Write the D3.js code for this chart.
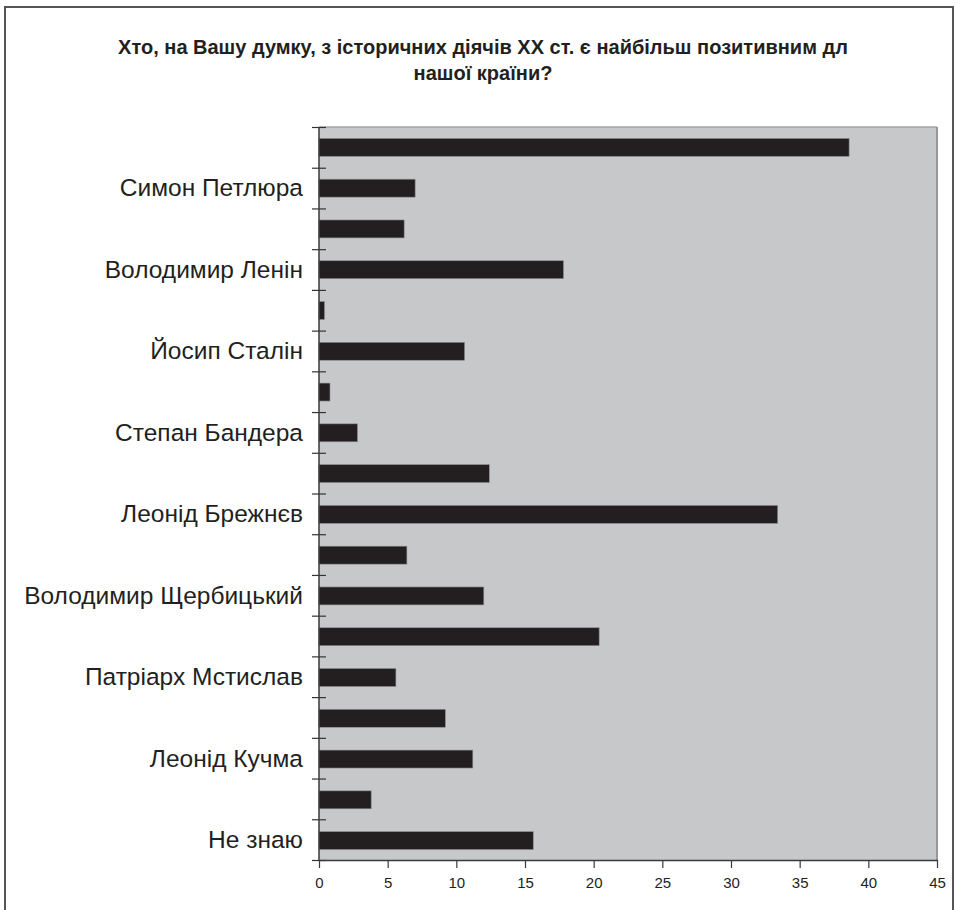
<!DOCTYPE html>
<html>
<head>
<meta charset="utf-8">
<script src="https://cdn.jsdelivr.net/npm/d3@7"></script>
<style>
  html, body { margin: 0; padding: 0; background: #ffffff; }
  svg { display: block; }
</style>
</head>
<body>
<svg id="chart" width="955" height="910"></svg>
<script>
// Survey answers, top to bottom; only every other row carries a printed name
const categories = [
  "", "Симон Петлюра", "", "Володимир Ленін", "", "Йосип Сталін",
  "", "Степан Бандера", "", "Леонід Брежнєв", "", "Володимир Щербицький",
  "", "Патріарх Мстислав", "", "Леонід Кучма", "", "Не знаю"
];
const values = [
  38.6, 7.0, 6.2, 17.8, 0.4, 10.6,
  0.8, 2.8, 12.4, 33.4, 6.4, 12.0,
  20.4, 5.6, 9.2, 11.2, 3.8, 15.6
];
const xTicks = [0, 5, 10, 15, 20, 25, 30, 35, 40, 45];
const titleLines = [
  "Хто, на Вашу думку, з історичних діячів ХХ ст. є найбільш позитивним дл",
  "нашої країни?"
];

const svg = d3.select("#chart");
const plot = { left: 319, right: 937, top: 127, bottom: 860 };

// outer frame
svg.append("rect")
  .attr("x", 5).attr("y", 7).attr("width", 948).attr("height", 920)
  .attr("fill", "#ffffff").attr("stroke", "#555555").attr("stroke-width", 2);

// title
svg.append("g").selectAll("text").data(titleLines).join("text")
  .attr("x", 483).attr("y", (d, i) => 54 + i * 26)
  .attr("text-anchor", "middle")
  .attr("font-family", "'Liberation Sans', Arial, sans-serif")
  .attr("font-weight", "bold").attr("font-size", 20)
  .attr("fill", "#231f20")
  .text(d => d);

const x = d3.scaleLinear().domain([0, 45]).range([plot.left, plot.right]);
const idx = d3.range(categories.length);
const y = d3.scaleBand().domain(idx).range([plot.top, plot.bottom + 1])
  .paddingInner(0.56).paddingOuter(0.28);
const yEdges = d3.scaleLinear().domain([0, categories.length]).range([plot.top, plot.bottom]);

// plot background
svg.append("rect")
  .attr("x", plot.left).attr("y", plot.top)
  .attr("width", plot.right - plot.left).attr("height", plot.bottom - plot.top)
  .attr("fill", "#c7c8ca");
svg.append("line")
  .attr("x1", plot.left).attr("x2", plot.right).attr("y1", plot.top).attr("y2", plot.top)
  .attr("stroke", "#a3a4a6").attr("stroke-width", 1.5);
svg.append("line")
  .attr("x1", plot.right).attr("x2", plot.right).attr("y1", plot.top).attr("y2", plot.bottom)
  .attr("stroke", "#97989a").attr("stroke-width", 2);

// bars
svg.append("g").selectAll("rect").data(idx).join("rect")
  .attr("x", x(0))
  .attr("y", i => y(i))
  .attr("width", i => x(values[i]) - x(0))
  .attr("height", y.bandwidth())
  .attr("fill", "#231f20")
  .attr("stroke", "#8c8c8e").attr("stroke-width", 0.6);

// category boundary ticks crossing the value axis
const edgeAxis = d3.axisLeft(yEdges).tickValues(d3.range(categories.length + 1))
  .tickSize(14).tickFormat("");
const edgeG = svg.append("g").attr("transform", `translate(${plot.left + 7},0)`).call(edgeAxis);
edgeG.select(".domain").remove();
edgeG.selectAll(".tick line").attr("stroke", "#333333").attr("stroke-width", 1.2);

// category names
const labelAxis = d3.axisLeft(y).tickSize(0).tickPadding(16).tickFormat(i => categories[i]);
const labelG = svg.append("g").attr("transform", `translate(${plot.left},0)`).call(labelAxis);
labelG.select(".domain").remove();
labelG.selectAll("text")
  .attr("font-family", "'Liberation Sans', Arial, sans-serif")
  .attr("font-size", 24.5).attr("fill", "#231f20");

// left axis line
svg.append("line")
  .attr("x1", plot.left).attr("x2", plot.left).attr("y1", plot.top).attr("y2", plot.bottom)
  .attr("stroke", "#3a3a3a").attr("stroke-width", 1.5);

// value axis
const xAxis = d3.axisBottom(x).tickValues(xTicks).tickSize(8).tickPadding(9).tickSizeOuter(0);
const xG = svg.append("g").attr("transform", `translate(0,${plot.bottom})`).call(xAxis);
xG.select(".domain").attr("stroke", "#3a3a3a").attr("stroke-width", 1.5);
xG.selectAll(".tick line").attr("stroke", "#3a3a3a").attr("stroke-width", 1.2);
xG.selectAll("text")
  .attr("font-family", "'Liberation Sans', Arial, sans-serif")
  .attr("font-size", 15).attr("fill", "#231f20");
</script>
</body>
</html>
